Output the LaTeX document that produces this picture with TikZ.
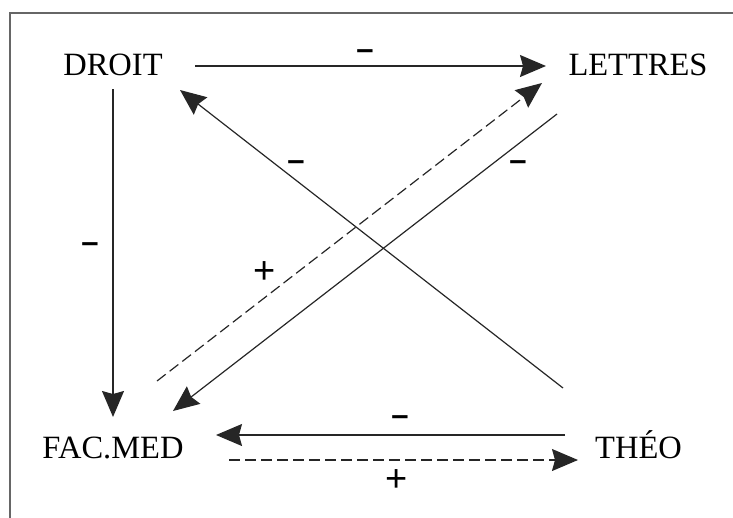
\documentclass[tikz,border=0pt]{standalone}
\usepackage{fontspec}
\setmainfont{Liberation Serif}
\newfontfamily\signfont{Liberation Sans}
\usetikzlibrary{arrows.meta}

\begin{document}
\begin{tikzpicture}[
  x=1pt,
  y=-1pt,
  line join=miter,
  fac/.style={anchor=base,inner sep=0pt,font=\fontsize{32.5}{39}\selectfont},
  signmoins/.style={anchor=base,inner sep=0pt,font=\signfont\bfseries\fontsize{31}{36}\selectfont},
  signplus/.style={anchor=base,inner sep=0pt,font=\signfont\fontsize{38}{44}\selectfont},
  fleche/.style={line width=1.2pt,black!85,-{Stealth[length=26pt,width=22pt,inset=3pt]}},
  tirets/.style={fleche,dash pattern=on 11pt off 5pt}
]
  \useasboundingbox (0,0) rectangle (733,517);

  % Рамка
  \draw[line width=2pt,black!60] (10,530) -- (10,13) -- (745,13);

  % Факультеты
  \node[fac] (droit)   at (113,75)   {DROIT};
  \node[fac] (lettres) at (638,75)   {LETTRES};
  \node[fac] (facmed)  at (113,458)  {FAC.MED};
  \node[fac] (theo)    at (638.5,458) {THÉO};

  % Концы горизонтальных и вертикальных стрелок
  \coordinate (dl1) at (195,66);
  \coordinate (dl2) at (546,66);
  \coordinate (df1) at (113,89);
  \coordinate (df2) at (113,417);
  \coordinate (tf1) at (565,435);
  \coordinate (tf2) at (216,435);
  \coordinate (ft1) at (229,460);
  \coordinate (ft2) at (578,460);

  % Концы диагоналей
  \coordinate (td1) at (563,388);
  \coordinate (td2) at (180,90);
  \coordinate (lf1) at (557,114);
  \coordinate (lf2) at (173,411);
  \coordinate (fl1) at (157,381);
  \coordinate (fl2) at (542,83);

  % Стрелки
  \draw[fleche] (dl1) -- (dl2);
  \draw[fleche] (df1) -- (df2);
  \draw[fleche] (tf1) -- (tf2);
  \draw[tirets] (ft1) -- (ft2);
  \draw[fleche] (td1) -- (td2);
  \draw[fleche] (lf1) -- (lf2);
  \draw[tirets] (fl1) -- (fl2);

  % Знаки
  \node[signmoins] (m1) at (365,59)  {\textendash};
  \node[signmoins] (m2) at (90,252)  {\textendash};
  \node[signmoins] (m3) at (296,170) {\textendash};
  \node[signmoins] (m4) at (518,170) {\textendash};
  \node[signmoins] (m5) at (400,425) {\textendash};
  \node[signplus]  (p1) at (265,283) {+};
  \node[signplus]  (p2) at (397,491) {+};
\end{tikzpicture}
\end{document}
